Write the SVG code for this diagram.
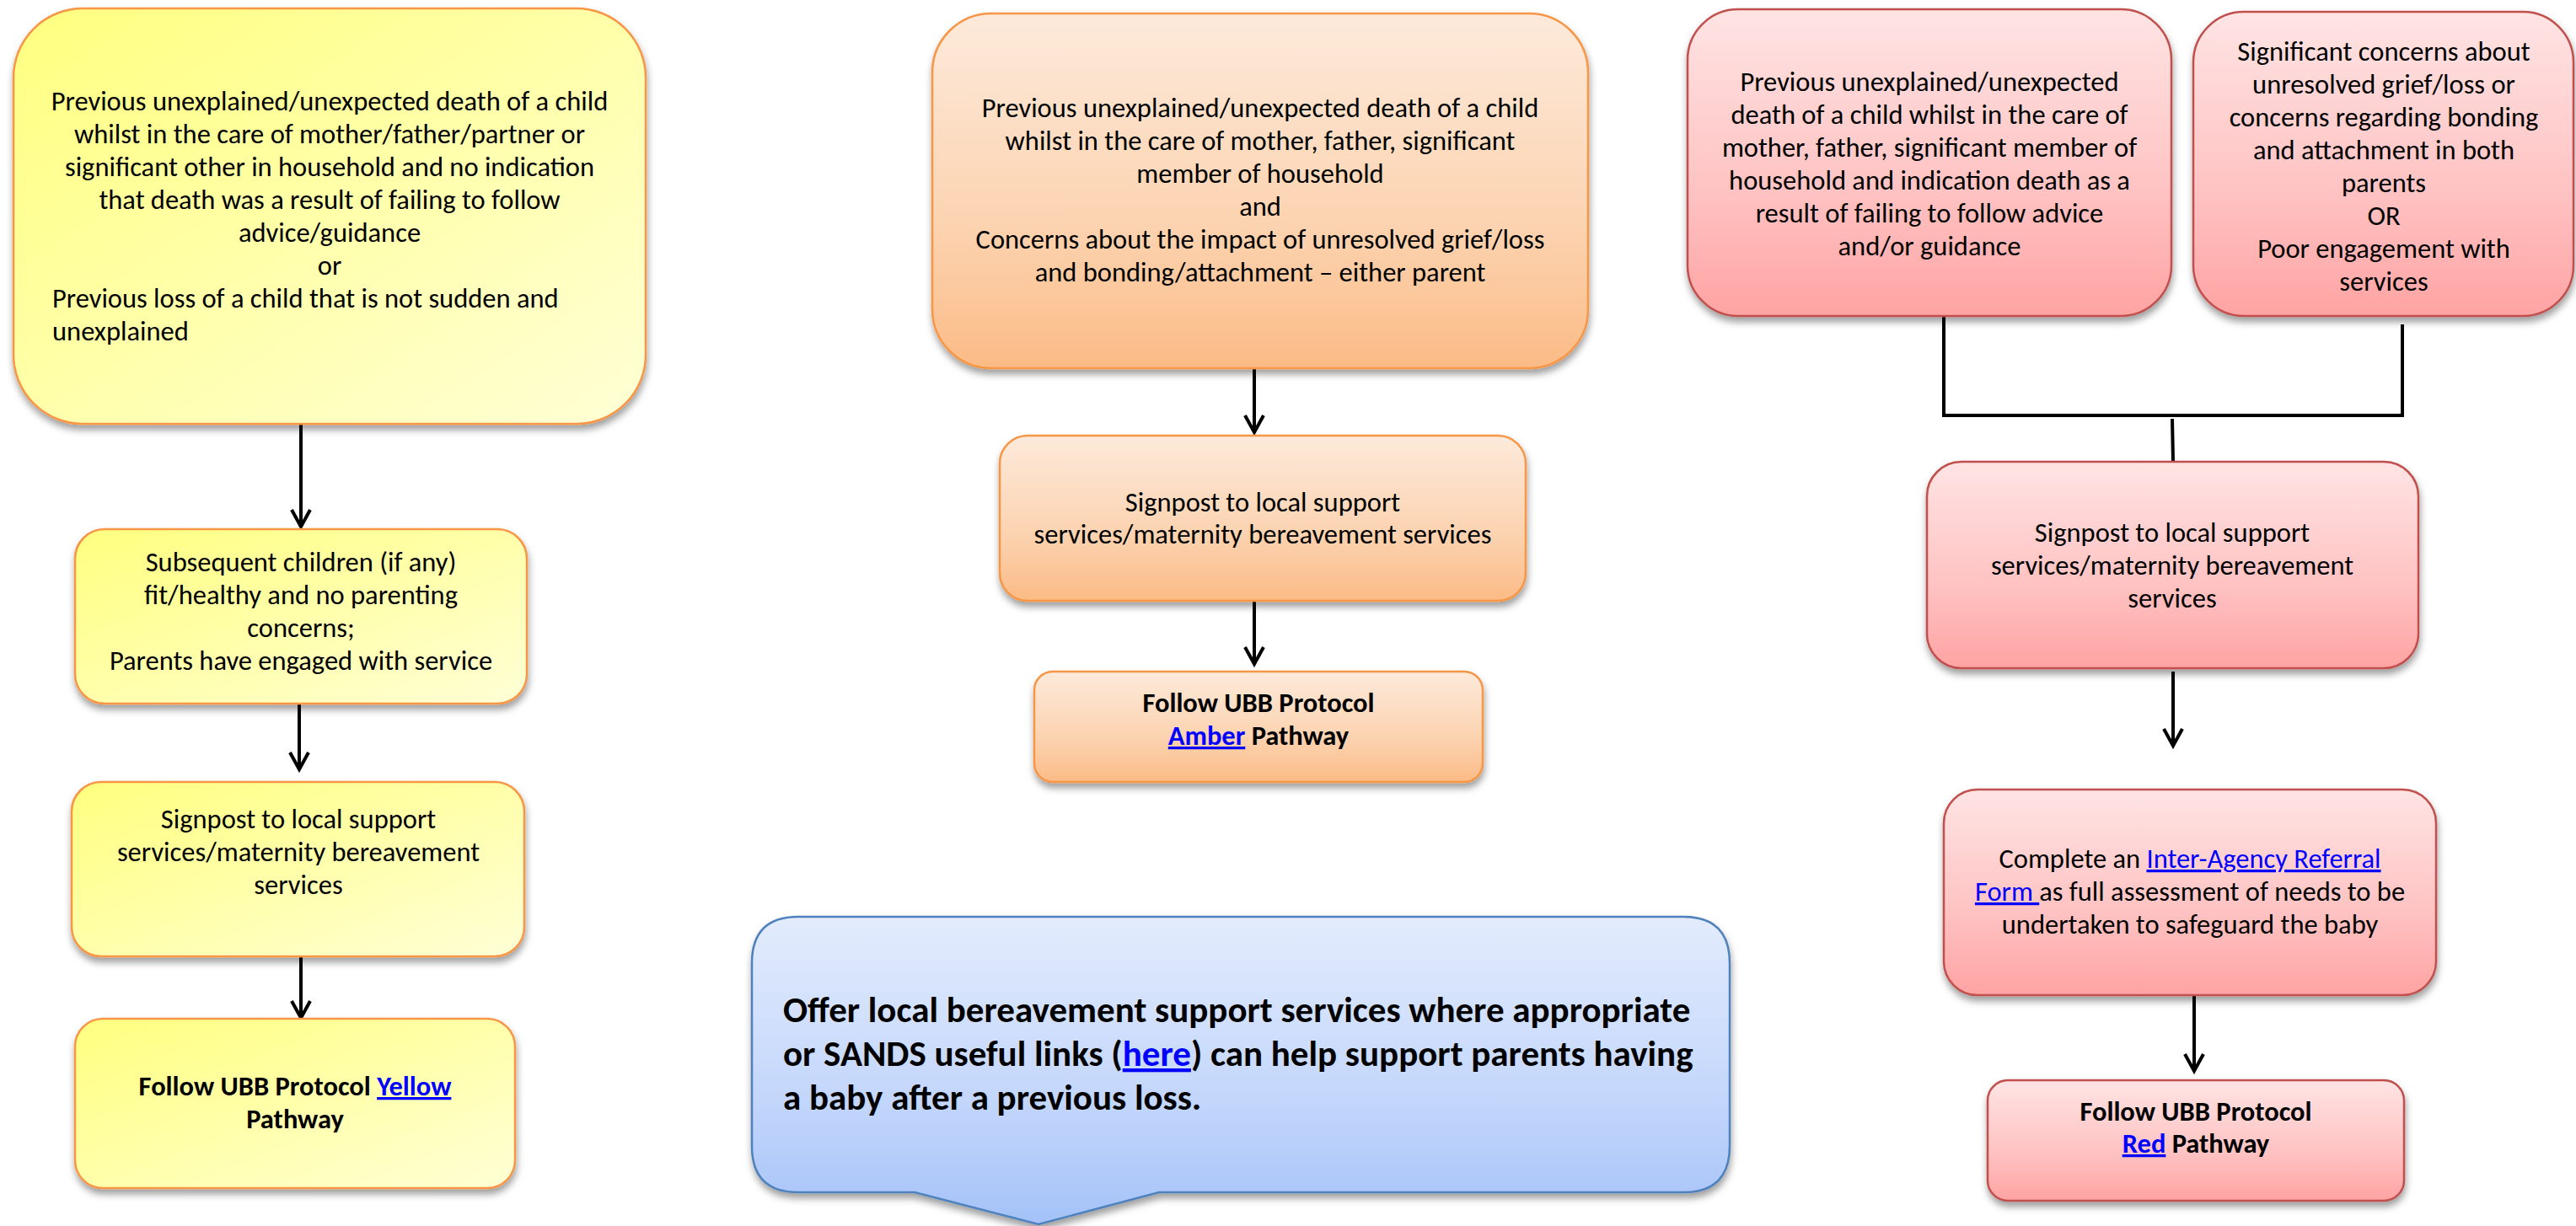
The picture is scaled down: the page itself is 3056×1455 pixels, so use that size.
<svg xmlns="http://www.w3.org/2000/svg" width="3056" height="1455" viewBox="0 0 3056 1455">
  <style>
    .t { font-family: Carlito, Lato, "Liberation Sans", sans-serif; font-size: 32.5px; fill: #000; }
    .c { text-anchor: middle; }
    .b { font-weight: bold; }
    .big { font-size: 43px; font-weight: bold; }
    .lnk { fill: #0000FF; text-decoration: underline; }
    .yel { fill: url(#gYellow); stroke: #F79646; stroke-width: 2.5; filter: url(#shadow); }
    .amb { fill: url(#gAmber); stroke: #F79646; stroke-width: 2.5; filter: url(#shadow); }
    .red { fill: url(#gRed); stroke: #C0504D; stroke-width: 2.5; filter: url(#shadow); }
    .blu { fill: url(#gBlue); stroke: #4F81BD; stroke-width: 2.5; filter: url(#shadow); }
    .wire { fill: none; stroke: #000; stroke-width: 4; }
    .arr { marker-end: url(#head); }
  </style>
  <defs>
    <linearGradient id="gYellow" x1="0" y1="0" x2="1" y2="1">
      <stop offset="0" stop-color="#FFFF7F"/>
      <stop offset="1" stop-color="#FFFFD6"/>
    </linearGradient>
    <linearGradient id="gAmber" x1="0" y1="0" x2="0" y2="1">
      <stop offset="0" stop-color="#FDEADB"/>
      <stop offset="0.6" stop-color="#FCD3B0"/>
      <stop offset="1" stop-color="#FBBB86"/>
    </linearGradient>
    <linearGradient id="gRed" x1="0" y1="0" x2="0" y2="1">
      <stop offset="0" stop-color="#FFE4E4"/>
      <stop offset="0.6" stop-color="#FFC2C2"/>
      <stop offset="1" stop-color="#FFA3A3"/>
    </linearGradient>
    <linearGradient id="gBlue" x1="0" y1="0" x2="0" y2="1">
      <stop offset="0" stop-color="#E3ECFD"/>
      <stop offset="0.6" stop-color="#C3D6FB"/>
      <stop offset="1" stop-color="#A4C2F8"/>
    </linearGradient>
    <filter id="shadow" x="-10%" y="-10%" width="120%" height="130%">
      <feDropShadow dx="1" dy="6" stdDeviation="4" flood-color="#000" flood-opacity="0.38"/>
    </filter>
    <marker id="head" markerUnits="userSpaceOnUse" markerWidth="30" markerHeight="30" refX="0" refY="0" orient="auto" overflow="visible">
      <path d="M-20,-11 L0,0 L-20,11" fill="none" stroke="#000" stroke-width="4"/>
    </marker>
  </defs>

  <rect width="3056" height="1455" fill="#FFFFFF"/>

  <!-- connectors -->
  <g id="connectors">
    <line class="wire arr" x1="357" y1="503" x2="357" y2="625"/>
    <line class="wire arr" x1="355" y1="835" x2="355" y2="913"/>
    <line class="wire arr" x1="357" y1="1135" x2="357" y2="1208"/>
    <line class="wire arr" x1="1488" y1="437" x2="1488" y2="513"/>
    <line class="wire arr" x1="1488" y1="713" x2="1488" y2="788"/>
    <polyline class="wire" points="2306,375 2306,493 2850,493 2850,385"/>
    <line class="wire" x1="2577" y1="497" x2="2578" y2="548"/>
    <line class="wire arr" x1="2578" y1="797" x2="2578" y2="885"/>
    <line class="wire arr" x1="2603" y1="1181" x2="2603" y2="1271"/>
  </g>

  <!-- yellow pathway -->
  <g id="y1">
    <rect class="yel" x="16" y="10" width="750" height="493" rx="82"/>
    <text class="t c" x="391" y="131">Previous unexplained/unexpected death of a child</text>
    <text class="t c" x="391" y="170">whilst in the care of mother/father/partner or</text>
    <text class="t c" x="391" y="209">significant other in household and no indication</text>
    <text class="t c" x="391" y="248">that death was a result of failing to follow</text>
    <text class="t c" x="391" y="287">advice/guidance</text>
    <text class="t c" x="391" y="326">or</text>
    <text class="t" x="62" y="365">Previous loss of a child that is not sudden and</text>
    <text class="t" x="62" y="404">unexplained</text>
  </g>
  <g id="y2">
    <rect class="yel" x="89" y="628" width="536" height="207" rx="35"/>
    <text class="t c" x="357" y="678">Subsequent children (if any)</text>
    <text class="t c" x="357" y="717">fit/healthy and no parenting</text>
    <text class="t c" x="357" y="756">concerns;</text>
    <text class="t c" x="357" y="795">Parents have engaged with service</text>
  </g>
  <g id="y3">
    <rect class="yel" x="85" y="928" width="537" height="207" rx="35"/>
    <text class="t c" x="354" y="983">Signpost to local support</text>
    <text class="t c" x="354" y="1022">services/maternity bereavement</text>
    <text class="t c" x="354" y="1061">services</text>
  </g>
  <g id="y4">
    <rect class="yel" x="89" y="1209" width="522" height="201" rx="33"/>
    <text class="t c b" x="350" y="1300">Follow UBB Protocol <tspan class="lnk">Yellow</tspan></text>
    <text class="t c b" x="350" y="1339">Pathway</text>
  </g>

  <!-- amber pathway -->
  <g id="a1">
    <rect class="amb" x="1106" y="16" width="778" height="421" rx="70"/>
    <text class="t c" x="1495" y="139">Previous unexplained/unexpected death of a child</text>
    <text class="t c" x="1495" y="178">whilst in the care of mother, father, significant</text>
    <text class="t c" x="1495" y="217">member of household</text>
    <text class="t c" x="1495" y="256">and</text>
    <text class="t c" x="1495" y="295">Concerns about the impact of unresolved grief/loss</text>
    <text class="t c" x="1495" y="334">and bonding/attachment – either parent</text>
  </g>
  <g id="a2">
    <rect class="amb" x="1186" y="517" width="624" height="196" rx="33"/>
    <text class="t c" x="1498" y="607">Signpost to local support</text>
    <text class="t c" x="1498" y="645">services/maternity bereavement services</text>
  </g>
  <g id="a3">
    <rect class="amb" x="1227" y="797" width="532" height="131" rx="22"/>
    <text class="t c b" x="1493" y="845">Follow UBB Protocol</text>
    <text class="t c b" x="1493" y="884"><tspan class="lnk">Amber</tspan> Pathway</text>
  </g>

  <!-- red pathway -->
  <g id="r1">
    <rect class="red" x="2002" y="11" width="574" height="364" rx="60"/>
    <text class="t c" x="2289" y="108">Previous unexplained/unexpected</text>
    <text class="t c" x="2289" y="147">death of a child whilst in the care of</text>
    <text class="t c" x="2289" y="186">mother, father, significant member of</text>
    <text class="t c" x="2289" y="225">household and indication death as a</text>
    <text class="t c" x="2289" y="264">result of failing to follow advice</text>
    <text class="t c" x="2289" y="303">and/or guidance</text>
  </g>
  <g id="r2">
    <rect class="red" x="2602" y="14" width="451" height="361" rx="60"/>
    <text class="t c" x="2828" y="72">Significant concerns about</text>
    <text class="t c" x="2828" y="111">unresolved grief/loss or</text>
    <text class="t c" x="2828" y="150">concerns regarding bonding</text>
    <text class="t c" x="2828" y="189">and attachment in both</text>
    <text class="t c" x="2828" y="228">parents</text>
    <text class="t c" x="2828" y="267">OR</text>
    <text class="t c" x="2828" y="306">Poor engagement with</text>
    <text class="t c" x="2828" y="345">services</text>
  </g>
  <g id="r3">
    <rect class="red" x="2286" y="548" width="583" height="245" rx="41"/>
    <text class="t c" x="2577" y="643">Signpost to local support</text>
    <text class="t c" x="2577" y="682">services/maternity bereavement</text>
    <text class="t c" x="2577" y="721">services</text>
  </g>
  <g id="r4">
    <rect class="red" x="2306" y="937" width="584" height="244" rx="40"/>
    <text class="t c" x="2598" y="1030">Complete an <tspan class="lnk">Inter-Agency Referral</tspan></text>
    <text class="t c" x="2598" y="1069"><tspan class="lnk">Form </tspan>as full assessment of needs to be</text>
    <text class="t c" x="2598" y="1108">undertaken to safeguard the baby</text>
  </g>
  <g id="r5">
    <rect class="red" x="2358" y="1282" width="494" height="143" rx="24"/>
    <text class="t c b" x="2605" y="1330">Follow UBB Protocol</text>
    <text class="t c b" x="2605" y="1368"><tspan class="lnk">Red</tspan> Pathway</text>
  </g>

  <!-- support note callout -->
  <g id="note">
    <path class="blu" d="M947,1088 H1997 Q2052,1088 2052,1143 V1360 Q2052,1415 1997,1415 H1375 L1232,1453 L1085,1415 H947 Q892,1415 892,1360 V1143 Q892,1088 947,1088 Z"/>
    <text class="t big" x="929" y="1213">Offer local bereavement support services where appropriate</text>
    <text class="t big" x="929" y="1265">or SANDS useful links (<tspan class="lnk">here</tspan>) can help support parents having</text>
    <text class="t big" x="929" y="1317">a baby after a previous loss.</text>
  </g>
</svg>
